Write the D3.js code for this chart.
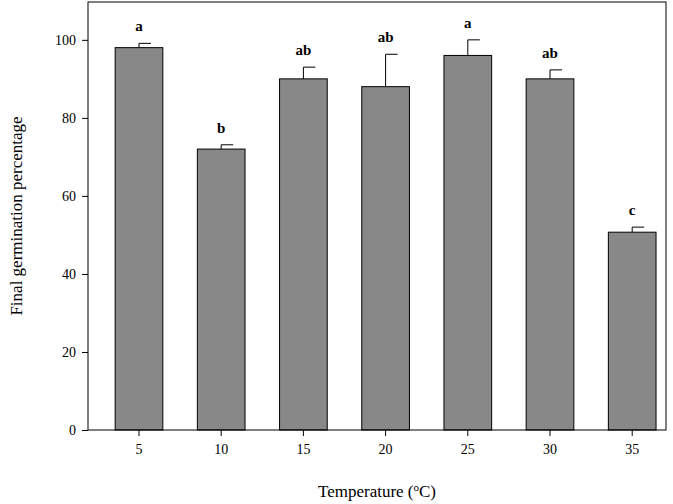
<!DOCTYPE html>
<html><head><meta charset="utf-8">
<script src="https://cdn.jsdelivr.net/npm/d3@7"></script>
<style>body{margin:0;background:#fff}text{font-family:"Liberation Serif","Times New Roman",serif}</style>
</head><body><svg id="c" width="673" height="504"></svg>
<script>
const temps = ["5","10","15","20","25","30","35"];
const means = [98, 72, 90, 88, 96, 90, 50.7];
const errs = [1.1, 1.1, 3.0, 8.3, 4.0, 2.3, 1.3];
const letters = ["a","b","ab","ab","a","ab","c"];
const yTicks = [0,20,40,60,80,100];

const margin = {top: 2, right: 7, bottom: 74, left: 88},
  width = 673 - margin.left - margin.right,
  height = 504 - margin.top - margin.bottom;

const svg = d3.select("#c").append("g")
  .attr("transform", `translate(${margin.left},${margin.top})`);

const x = d3.scaleBand().domain(temps).range([9.9, 585.3]).paddingInner(0.42).paddingOuter(0.21);
const y = d3.scaleLinear().domain([0, 109.7]).range([height, 0]);

// bars
svg.selectAll(".bar").data(temps).enter().append("rect")
  .attr("x", d => x(d)).attr("width", x.bandwidth())
  .attr("y", (d, i) => y(means[i])).attr("height", (d, i) => height - y(means[i]))
  .attr("fill", "#888888").attr("stroke", "#000").attr("stroke-width", 1);

// error bars (upper only)
const eb = svg.selectAll(".err").data(temps).enter().append("g");
eb.append("line")
  .attr("x1", d => x(d) + x.bandwidth() / 2).attr("x2", d => x(d) + x.bandwidth() / 2)
  .attr("y1", (d, i) => y(means[i])).attr("y2", (d, i) => y(means[i] + errs[i]))
  .attr("stroke", "#000");
eb.append("line")
  .attr("x1", d => x(d) + x.bandwidth() / 2).attr("x2", d => x(d) + x.bandwidth() / 2 + 12)
  .attr("y1", (d, i) => y(means[i] + errs[i])).attr("y2", (d, i) => y(means[i] + errs[i]))
  .attr("stroke", "#000");

// letters
svg.selectAll(".lab").data(temps).enter().append("text")
  .attr("x", d => x(d) + x.bandwidth() / 2)
  .attr("y", (d, i) => y(means[i] + errs[i]) - 12)
  .attr("text-anchor", "middle").attr("font-size", 15).attr("font-weight", "bold")
  .text((d, i) => letters[i]);

// frame
svg.append("rect").attr("width", width).attr("height", height)
  .attr("fill", "none").attr("stroke", "#000");

// axes
const xa = svg.append("g").attr("transform", `translate(0,${height})`)
  .call(d3.axisBottom(x).tickSizeOuter(0).tickSize(6).tickPadding(8));
const ya = svg.append("g").call(d3.axisLeft(y).tickValues(yTicks).tickSizeOuter(0).tickSize(6).tickPadding(6));
[xa, ya].forEach(a => {
  a.select(".domain").remove();
  a.selectAll("text").attr("font-size", 14).attr("fill", "#000")
    .style("font-family", '"Liberation Serif",serif');
});

// axis titles
d3.select("#c").append("text").attr("x", margin.left + width / 2).attr("y", 497)
  .attr("text-anchor", "middle").attr("font-size", 17)
  .html('Temperature (<tspan baseline-shift="super" font-size="11">o</tspan>C)');
d3.select("#c").append("text")
  .attr("transform", `translate(22,${margin.top + height / 2}) rotate(-90)`)
  .attr("text-anchor", "middle").attr("font-size", 17)
  .text("Final germination percentage");
</script></body></html>
